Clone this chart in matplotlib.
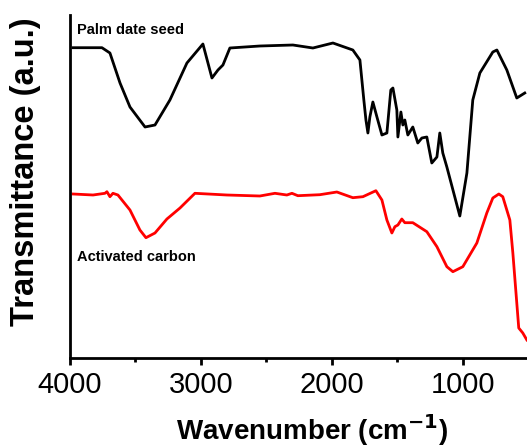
import numpy as np
import matplotlib.pyplot as plt
from matplotlib.ticker import MultipleLocator

plt.rcParams['font.family'] = ['Liberation Sans', 'DejaVu Sans']

# palm date seed spectrum (wavenumber, transmittance a.u.)
seed_wn = [3977, 3756, 3695, 3618, 3542, 3427, 3351, 3237, 3107, 2985, 2916, 2870,
           2832, 2779, 2550, 2298, 2145, 1992, 1840, 1786, 1756, 1740, 1725, 1710,
           1687, 1656, 1618, 1580, 1550, 1534, 1504, 1496, 1473, 1458, 1443, 1420,
           1382, 1344, 1313, 1275, 1237, 1198, 1176, 1153, 1122, 1023, 969, 924,
           870, 771, 740, 664, 588, 527]
seed_t = [310.3, 310.3, 305, 275, 251, 231, 233, 258, 295, 314, 280, 288,
          293, 310, 312, 313, 310, 315, 308, 298, 258, 238, 225, 241,
          256, 241, 223, 225, 268, 270, 248, 221, 246, 233, 238, 223,
          231, 215, 220, 221, 195, 201, 225, 205, 191, 142, 185, 258,
          285, 306, 308, 288, 260, 265]

# activated carbon spectrum
ac_wn = [3977, 3824, 3733, 3718, 3695, 3672, 3634, 3542, 3466, 3420, 3351, 3260,
         3160, 3046, 2802, 2550, 2435, 2344, 2305, 2260, 2092, 1962, 1840, 1763,
         1664, 1618, 1580, 1542, 1519, 1496, 1466, 1443, 1382, 1275, 1198, 1122,
         1076, 1000, 893, 817, 771, 725, 695, 641, 618, 588, 573, 542, 511]
ac_t = [164, 163, 164.7, 166.3, 161.3, 164.7, 163, 148, 128, 120.3, 125, 139,
        150, 164.7, 163, 162, 164.7, 163, 164.7, 162.3, 163.3, 166, 160.3, 161.3,
        167.3, 158, 138, 125, 131.3, 133, 139, 135.3, 135.3, 126.3, 111.3, 91.3,
        86.3, 91.3, 115, 145, 160, 164, 161.3, 138, 105, 55, 30, 25, 18]

fig = plt.figure(figsize=(5.27, 4.48), dpi=100)
ax = fig.add_axes([70/527, 1-358/448, 1-70/527, (358-15)/448])

ax.plot(seed_wn, seed_t, color='black', linewidth=2)
ax.plot(ac_wn, ac_t, color='red', linewidth=2)

ax.set_xlim(4000, 510)
ax.set_ylim(0, 343)

ax.text(3950, 328, 'Palm date seed', fontsize=10.5, fontweight='bold', va='center')
ax.text(3950, 101, 'Activated carbon', fontsize=10.5, fontweight='bold', va='center')

ax.spines['right'].set_visible(False)
ax.spines['top'].set_visible(False)
ax.spines['left'].set_linewidth(2)
ax.spines['bottom'].set_linewidth(2)

ax.set_xticks([4000, 3000, 2000, 1000])
ax.xaxis.set_minor_locator(MultipleLocator(500))
ax.tick_params(axis='x', which='major', length=5, width=2, labelsize=21, pad=4)
ax.tick_params(axis='x', which='minor', length=3, width=2)
ax.set_yticks([])

# axis titles placed in figure pixels
fig.text(312/527, 1-430/448, 'Wavenumber (cm$^{\\mathbf{-1}}$)', fontsize=20,
         fontweight='bold', ha='center', va='center')
fig.text(26/527, 1-172/448, 'Transmittance (a.u.)', fontsize=23.5,
         fontweight='bold', ha='center', va='center', rotation=90)

fig.savefig('out.png', dpi=100)
